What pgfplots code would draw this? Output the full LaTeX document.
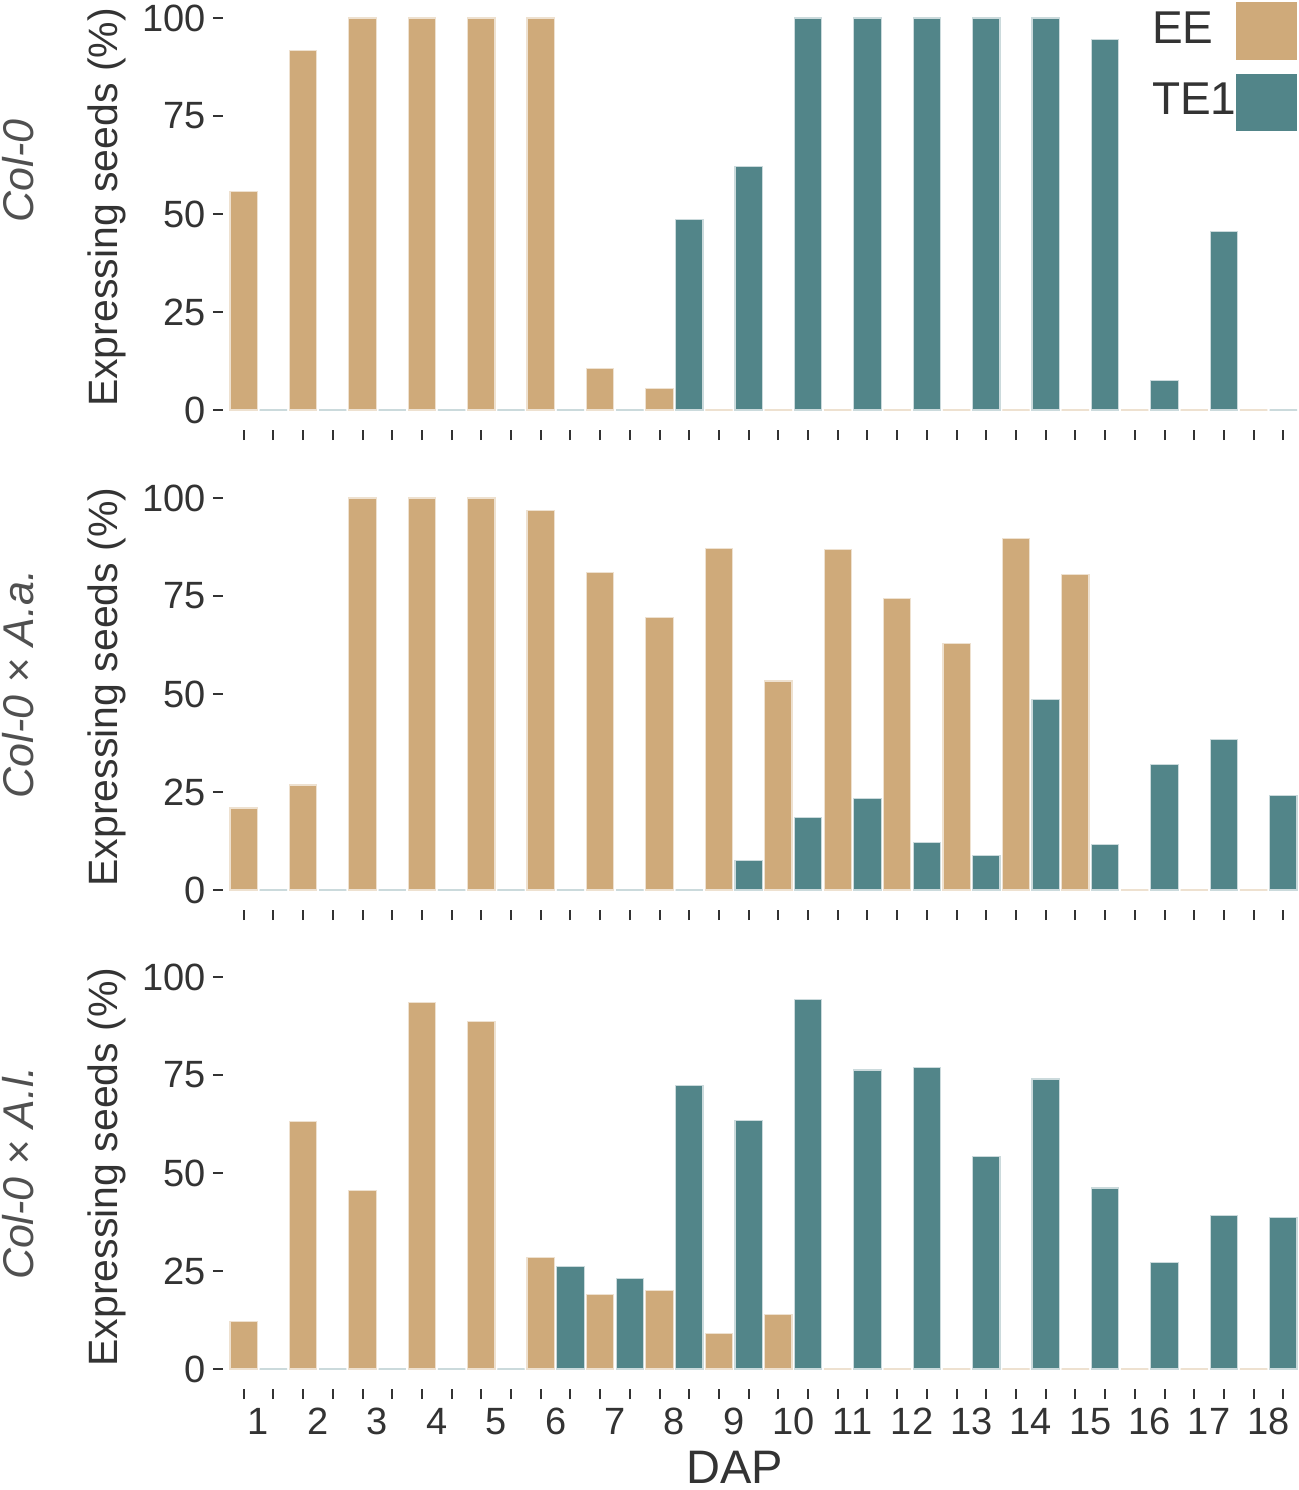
\documentclass[border=0pt]{standalone}
\usepackage{fontspec}
\setmainfont{Liberation Sans}
\usepackage{pgfplots}
\usepackage{pgfplotstable}
\pgfplotsset{compat=1.18}

\definecolor{tanc}{RGB}{207,170,122}
\definecolor{tealc}{RGB}{82,133,137}
\definecolor{tickc}{RGB}{51,51,51}
\definecolor{labc}{RGB}{80,80,80}

% Col-0
\pgfplotstableread{
dap xee ee xte te
1 1 55.8 2 0
2 3 91.7 4 0
3 5 100 6 0
4 7 100 8 0
5 9 100 10 0
6 11 100 12 0
7 13 10.6 14 0
8 15 5.5 16 48.5
9 17 0 18 62.2
10 19 0 20 100
11 21 0 22 100
12 23 0 24 100
13 25 0 26 100
14 27 0 28 100
15 29 0 30 94.6
16 31 0 32 7.6
17 33 0 34 45.5
18 35 0 36 0
}\tabA
% Col-0 x A.a.
\pgfplotstableread{
dap xee ee xte te
1 1 20.9 2 0
2 3 26.8 4 0
3 5 100 6 0
4 7 100 8 0
5 9 100 10 0
6 11 96.9 12 0
7 13 81.1 14 0
8 15 69.5 16 0
9 17 87.2 18 7.6
10 19 53.3 20 18.4
11 21 86.8 22 23.4
12 23 74.4 24 12.2
13 25 62.9 26 8.8
14 27 89.7 28 48.5
15 29 80.4 30 11.7
16 31 0 32 32.0
17 33 0 34 38.4
18 35 0 36 24.1
}\tabB
% Col-0 x A.l.
\pgfplotstableread{
dap xee ee xte te
1 1 12.1 2 0
2 3 63.2 4 0
3 5 45.6 6 0
4 7 93.5 8 0
5 9 88.6 10 0
6 11 28.5 12 26.1
7 13 19.0 14 23.1
8 15 20.0 16 72.3
9 17 9.1 18 63.4
10 19 14.0 20 94.2
11 21 0 22 76.3
12 23 0 24 76.9
13 25 0 26 54.3
14 27 0 28 74.0
15 29 0 30 46.2
16 31 0 32 27.2
17 33 0 34 39.2
18 35 0 36 38.7
}\tabC

\pgfplotsset{
  panel/.style={
    anchor=north west, scale only axis, width=537pt, height=206pt,
    xmin=0.303, xmax=36.46, ymin=-5.1, ymax=100,
    axis lines*=left, axis line style={draw=none},
    tick align=outside, major tick length=5pt,
    tick style={line width=1pt, color=tickc},
    ytick={0,25,50,75,100},
    xtick={1,...,36}, xticklabels={,,},
    ybar, bar width=0.92,
    ticklabel style={font=\fontsize{19}{22}\selectfont, text=tickc},
    /pgf/number format/assume math mode=true,
    clip=false,
  },
  eebar/.style={fill=tanc, draw=tanc!35, line width=0.6pt, bar shift=0pt,
    legend image code/.code={\fill[tanc] (0pt,-15pt) rectangle (29.5pt,13pt);}},
  tebar/.style={fill=tealc, draw=tealc!30, line width=0.6pt, bar shift=0pt,
    legend image code/.code={\fill[tealc] (0pt,-15pt) rectangle (29.5pt,13pt);}},
}

\begin{document}
\begin{tikzpicture}
\useasboundingbox (0pt,0pt) rectangle (649.5pt,-745pt);

\begin{axis}[panel, at={(111.5pt,-9pt)},
  legend style={at={(1,1)}, anchor=north east, yshift=8pt, draw=none, fill=none,
    font=\fontsize{23}{26}\selectfont, text=tickc, inner sep=0pt, row sep=7pt,
    column sep=0pt, nodes={inner sep=0pt}, cells={anchor=west}},
  legend plot pos=right]
\addplot[eebar] table[x=xee, y=ee] {\tabA};
\addlegendentry{EE}
\addplot[tebar] table[x=xte, y=te] {\tabA};
\addlegendentry{TE1}
\end{axis}

\begin{axis}[panel, at={(111.5pt,-249pt)}]
\addplot[eebar] table[x=xee, y=ee] {\tabB};
\addplot[tebar] table[x=xte, y=te] {\tabB};
\end{axis}

\begin{axis}[panel, at={(111.5pt,-488.5pt)},
  extra x ticks={1.5,3.5,...,35.5},
  extra x tick labels={1,2,3,4,5,6,7,8,9,10,11,12,13,14,15,16,17,18},
  extra x tick style={major tick length=0pt, xticklabel style={yshift=-6pt}}]
\addplot[eebar] table[x=xee, y=ee] {\tabC};
\addplot[tebar] table[x=xte, y=te] {\tabC};
\end{axis}

% y labels
\foreach \yy in {-103.75pt,-343.5pt,-583.5pt}
  \node[rotate=90, anchor=center, text=tickc, inner sep=0pt,
        font=\fontsize{20.5}{24}\selectfont] at (53.5pt,\yy) {Expressing seeds (\%)};
% panel labels
\node[rotate=90, anchor=center, text=labc, inner sep=0pt,
      font=\fontsize{21.5}{24}\selectfont\itshape] at (9pt,-85.5pt) {Col-0};
\node[rotate=90, anchor=center, text=labc, inner sep=0pt,
      font=\fontsize{21.5}{24}\selectfont\itshape] at (9pt,-342pt) {Col-0 × A.a.};
\node[rotate=90, anchor=center, text=labc, inner sep=0pt,
      font=\fontsize{21.5}{24}\selectfont\itshape] at (9pt,-586.5pt) {Col-0 × A.l.};
% x label
\node[anchor=base, text=tickc, inner sep=0pt,
      font=\fontsize{23.5}{26}\selectfont] at (367.5pt,-741.5pt) {DAP};
\end{tikzpicture}
\end{document}
